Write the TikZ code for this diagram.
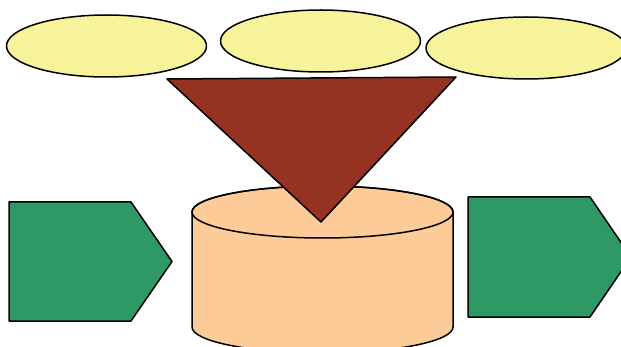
\documentclass[tikz,border=0pt]{standalone}
\definecolor{ylw}{HTML}{F7F39A}
\definecolor{brn}{HTML}{963222}
\definecolor{grn}{HTML}{2F9966}
\definecolor{pch}{HTML}{FCCB98}
\tikzset{shp/.style={draw=black, line width=1.5pt, line join=round}}
\begin{document}
\begin{tikzpicture}[x=1pt,y=-1pt]
\useasboundingbox (0,0) rectangle (621,347);
\clip (0,0) rectangle (621,347);
% top ellipses
\draw[shp, fill=ylw] (106.5,46) ellipse [x radius=100pt, y radius=31pt];
\draw[shp, fill=ylw] (320.5,41) ellipse [x radius=100pt, y radius=31pt];
\draw[shp, fill=ylw] (526,48) ellipse [x radius=100pt, y radius=31pt];
% pentagons
\draw[shp, fill=grn] (9,202) -- (131,202) -- (172,261.5) -- (131,321) -- (9,321) -- cycle;
\draw[shp, fill=grn] (468,197) -- (590,197) -- (631,257) -- (590,317) -- (468,317) -- cycle;
% cylinder
\draw[shp, fill=pch] (192,212) -- (192,327) arc[start angle=180, end angle=360, x radius=130.5pt, y radius=26pt] -- (453,212) arc[start angle=0, end angle=180, x radius=130.5pt, y radius=26pt] -- cycle;
\draw[shp] (322.5,212) ellipse [x radius=130.5pt, y radius=26pt];
% triangle
\draw[shp, fill=brn] (167,79) -- (456,77) -- (321,222) -- cycle;
\end{tikzpicture}
\end{document}
